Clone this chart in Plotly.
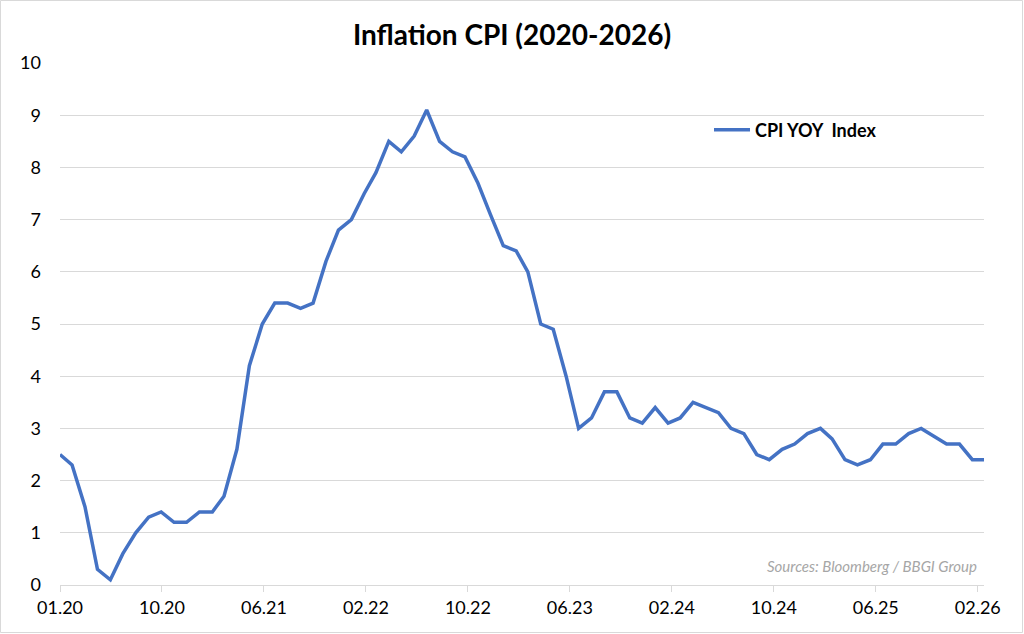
import pandas as pd
import plotly.graph_objects as go

# ---- data ----
title_text = "Inflation CPI (2020-2026)"
series_name = "CPI YOY  Index"
source_text = "Sources: Bloomberg / BBGI Group"

cpi_yoy = [
    2.5, 2.3, 1.5, 0.3, 0.1, 0.6, 1.0, 1.3, 1.4, 1.2, 1.2, 1.4,   # 2020
    1.4, 1.7, 2.6, 4.2, 5.0, 5.4, 5.4, 5.3, 5.4, 6.2, 6.8, 7.0,   # 2021
    7.5, 7.9, 8.5, 8.3, 8.6, 9.1, 8.5, 8.3, 8.2, 7.7, 7.1, 6.5,   # 2022
    6.4, 6.0, 5.0, 4.9, 4.0, 3.0, 3.2, 3.7, 3.7, 3.2, 3.1, 3.4,   # 2023
    3.1, 3.2, 3.5, 3.4, 3.3, 3.0, 2.9, 2.5, 2.4, 2.6, 2.7, 2.9,   # 2024
    3.0, 2.8, 2.4, 2.3, 2.4, 2.7, 2.7, 2.9, 3.0, 2.7, 2.7,        # 2025 (no Oct)
    2.4, 2.4,                                                     # 2026
]
missing_months = ["2025-10"]
tick_labels = ["01.20", "10.20", "06.21", "02.22", "10.22",
               "06.23", "02.24", "10.24", "06.25", "02.26"]

# month-end dates, Jan 2020 .. Feb 2026, skipping missing releases
all_months = pd.date_range("2020-01-31", "2026-02-28", freq="ME")
dates = [d for d in all_months if d.strftime("%Y-%m") not in missing_months]

tick_step_days = 245
tick_vals = [all_months[0] + pd.Timedelta(days=tick_step_days * k) for k in range(len(tick_labels))]

FONT = "Lato, 'Open Sans', sans-serif"
W, H = 1024, 634
ML, MR, MT, MB = 60, 40, 63, 49

fig = go.Figure()
fig.add_trace(go.Scatter(
    x=dates, y=cpi_yoy, mode="lines",
    name="<b>" + series_name.replace("  ", "&nbsp; ") + "</b>",
    line=dict(color="#4472C4", width=3.5),
))

pw, ph = W - ML - MR, H - MT - MB

fig.update_layout(
    width=W, height=H,
    margin=dict(l=ML, r=MR, t=MT, b=MB),
    paper_bgcolor="white", plot_bgcolor="white",
    font=dict(family=FONT, color="#000000"),
    title=dict(text="<b>" + title_text + "</b>", x=0.5, xanchor="center",
               y=1 - 35 / H, yanchor="middle",
               font=dict(size=28, family=FONT, color="#000000")),
    showlegend=True,
    legend=dict(x=(709 - ML) / pw, y=1 - (130 - MT) / ph, xanchor="left", yanchor="middle",
                bgcolor="rgba(0,0,0,0)", font=dict(size=18, family=FONT, color="#000000"),
                itemwidth=36),
    xaxis=dict(
        type="date",
        range=[dates[0], dates[-1]],
        tickvals=tick_vals, ticktext=tick_labels,
        showgrid=False, zeroline=False,
        showline=True, linecolor="#D9D9D9", linewidth=1,
        ticks="outside", ticklen=6, tickcolor="#D9D9D9", tickwidth=1,
        tickfont=dict(size=18, family=FONT, color="#000000"),
    ),
    yaxis=dict(
        range=[0, 10], dtick=1, tick0=0,
        showgrid=True, gridcolor="#D9D9D9", gridwidth=1,
        zeroline=False, showline=False, ticks="",
        ticklabelstandoff=18,
        tickfont=dict(size=18, family=FONT, color="#000000"),
    ),
)

fig.add_annotation(
    text="<i>" + source_text + "</i>", xref="paper", yref="paper",
    x=(979 - ML) / pw, y=1 - (566 - MT) / ph, xanchor="right", yanchor="middle",
    showarrow=False, font=dict(size=15, family=FONT, color="#A6A6A6"),
)

# outer chart-area border
fig.add_shape(
    type="rect", xref="paper", yref="paper",
    x0=-(ML - 0.5) / pw, x1=1 + (MR - 1.5) / pw,
    y0=-(MB - 1.5) / ph, y1=1 + (MT - 0.5) / ph,
    line=dict(color="#D9D9D9", width=1), layer="below",
)

fig.write_html(
    "out.html",
    config={"displayModeBar": False},
    post_script="document.body.style.margin='0';document.body.style.padding='0';",
)
